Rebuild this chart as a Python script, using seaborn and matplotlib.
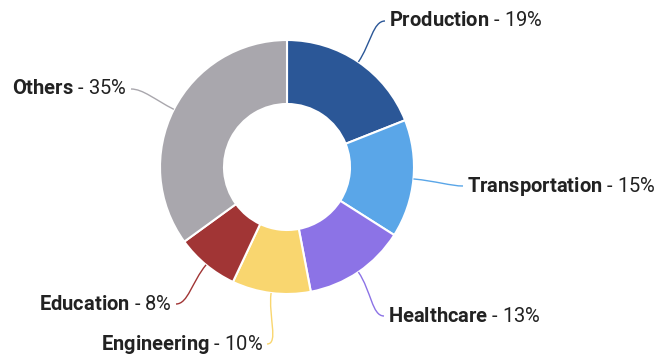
import numpy as np
import matplotlib
matplotlib.use("Agg")
import matplotlib.pyplot as plt
import seaborn as sns
from matplotlib.path import Path
from matplotlib.patches import PathPatch

# Share of workforce by sector (percent)
categories = ["Production", "Transportation", "Healthcare", "Engineering", "Education", "Others"]
shares = [19, 15, 13, 10, 8, 35]
colors = ["#2B5797", "#5AA6E8", "#8C73E6", "#F9D66F", "#A13535", "#A9A7AD"]

# Label placement in pixels (x, y from the top edge) and which side the text grows to
label_pos = [(389, 21, "left"), (467, 186, "left"), (388, 316, "left"),
             (263, 344, "right"), (172, 304, "right"), (127, 89, "right")]

sns.set_theme(style="white")
plt.rcParams["font.family"] = ["Roboto", "DejaVu Sans"]
plt.rcParams["mathtext.fontset"] = "custom"
plt.rcParams["mathtext.bf"] = "Roboto:bold"
plt.rcParams["mathtext.rm"] = "Roboto"

W, H = 663, 355
fig = plt.figure(figsize=(W / 100, H / 100), dpi=100)
ax = fig.add_axes([0, 0, 1, 1])

cx, cy, R, ring = 287, H - 167, 127, 64
wedges, _ = ax.pie(shares, colors=colors, startangle=90, counterclock=False,
                   center=(cx, cy), radius=R, frame=True,
                   wedgeprops=dict(width=ring, edgecolor="white", linewidth=1.5))
ax.set_xlim(0, W)
ax.set_ylim(0, H)
ax.axis("off")

text_color = "#222222"
for w, name, v, c, (lx, ly, side) in zip(wedges, categories, shares, colors, label_pos):
    theta = np.deg2rad((w.theta1 + w.theta2) / 2)
    d = np.array([np.cos(theta), np.sin(theta)])
    p0 = np.array([cx, cy]) + R * d
    sgn = 1 if side == "left" else -1
    p3 = np.array([lx - sgn * 4, H - ly])
    dist = np.linalg.norm(p3 - p0)
    p1 = p0 + d * dist * 0.45
    p2 = p3 - np.array([sgn * min(12, dist * 0.3), 0])
    path = Path([p0, p1, p2, p3], [Path.MOVETO, Path.CURVE4, Path.CURVE4, Path.CURVE4])
    ax.add_patch(PathPatch(path, facecolor="none", edgecolor=c, lw=1.0))
    ax.text(lx, H - ly, rf"$\bf{{{name}}}$ - {v}%", ha=side, va="center",
            fontsize=14.5, color=text_color)

fig.savefig("out.png", dpi=100, facecolor="white")
